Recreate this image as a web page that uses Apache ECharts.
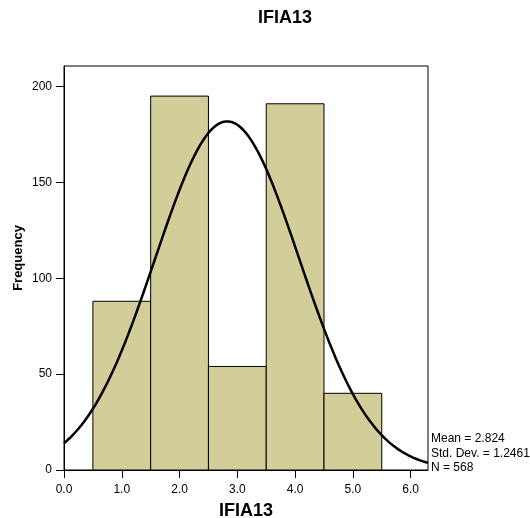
<!DOCTYPE html>
<html>
<head>
<meta charset="utf-8">
<script src="https://cdn.jsdelivr.net/npm/echarts@6/dist/echarts.min.js"></script>
<style>html,body{margin:0;padding:0;background:#fff;}#c{width:530px;height:518px;}</style>
</head>
<body>
<div id="c"></div>
<script>
// Histogram bins (centres) and frequencies
const binCenters = [1, 2, 3, 4, 5];
const frequencies = [88, 195, 54, 191, 40];
const BIN_WIDTH = 1;
// Summary statistics shown in the chart
const MEAN = 2.824;
const SD = 1.2461;
const N = 568;
// Tick values
const xTicks = [0, 1, 2, 3, 4, 5, 6];
const yTicks = [0, 50, 100, 150, 200];
const X_MAX = 6.3;
const Y_MAX = 210.7;

const barData = binCenters.map((c, i) => [c, frequencies[i]]);

// Fitted normal curve (N * binwidth * normal pdf) from the displayed mean / SD
const curveData = [];
for (let i = 0; i <= 126; i++) {
  const x = i * 0.05;
  const z = (x - MEAN) / SD;
  curveData.push([x, N * BIN_WIDTH * Math.exp(-0.5 * z * z) / (SD * Math.sqrt(2 * Math.PI))]);
}

const FONT = 'Liberation Sans, Arial, sans-serif';
const chart = echarts.init(document.getElementById('c'));
chart.setOption({
  animation: false,
  title: {
    text: 'IFIA13', left: 258, top: 9, padding: 0,
    textStyle: { fontFamily: FONT, fontSize: 18, fontWeight: 'bold', color: '#000' }
  },
  grid: { left: 64, right: 102, top: 66, bottom: 48, outerBoundsMode: 'none', containLabel: false, show: true, borderColor: '#000', borderWidth: 1, backgroundColor: 'transparent' },
  xAxis: {
    type: 'value', min: 0, max: X_MAX, interval: 1,
    name: 'IFIA13', nameLocation: 'middle', nameGap: 32, nameMoveOverlap: false,
    nameTextStyle: { fontFamily: FONT, fontSize: 18, fontWeight: 'bold', color: '#000' },
    axisLine: { show: true, onZero: false, lineStyle: { color: '#000', width: 1 } },
    axisTick: { show: true, length: 8, customValues: xTicks, lineStyle: { color: '#000' } },
    axisLabel: { customValues: xTicks, margin: 14, fontFamily: FONT, fontSize: 12, color: '#000', formatter: v => v.toFixed(1) },
    splitLine: { show: false }
  },
  yAxis: {
    type: 'value', min: 0, max: Y_MAX, interval: 50,
    name: 'Frequency', nameLocation: 'middle', nameGap: 39, nameMoveOverlap: false,
    nameTextStyle: { fontFamily: FONT, fontSize: 13, fontWeight: 'bold', color: '#000', padding: [0, 0, 0, 20] },
    axisLine: { show: true, onZero: false, lineStyle: { color: '#000', width: 1 } },
    axisTick: { show: true, length: 8, customValues: yTicks, lineStyle: { color: '#000' } },
    axisLabel: { customValues: yTicks, margin: 12, fontFamily: FONT, fontSize: 12, color: '#000' },
    splitLine: { show: false }
  },
  graphic: [{
    type: 'text', left: 431, top: 432,
    style: {
      text: 'Mean = ' + MEAN.toFixed(3) + '\nStd. Dev. = ' + SD.toFixed(4) + '\nN = ' + N,
      font: '12px ' + FONT, fill: '#000', lineHeight: 14.3
    }
  }],
  series: [
    {
      type: 'custom',
      data: barData,
      renderItem: function (params, api) {
        const c = api.value(0), v = api.value(1);
        const p0 = api.coord([c - BIN_WIDTH / 2, v]);
        const p1 = api.coord([c + BIN_WIDTH / 2, 0]);
        return {
          type: 'rect',
          shape: { x: p0[0], y: p0[1], width: p1[0] - p0[0], height: p1[1] - p0[1] },
          style: { fill: '#d3ce99', stroke: '#000', lineWidth: 1 }
        };
      },
      z: 2
    },
    {
      type: 'line', data: curveData, showSymbol: false, smooth: false,
      lineStyle: { color: '#000', width: 2.5 }, z: 3, clip: true
    }
  ]
});
</script>
</body>
</html>
